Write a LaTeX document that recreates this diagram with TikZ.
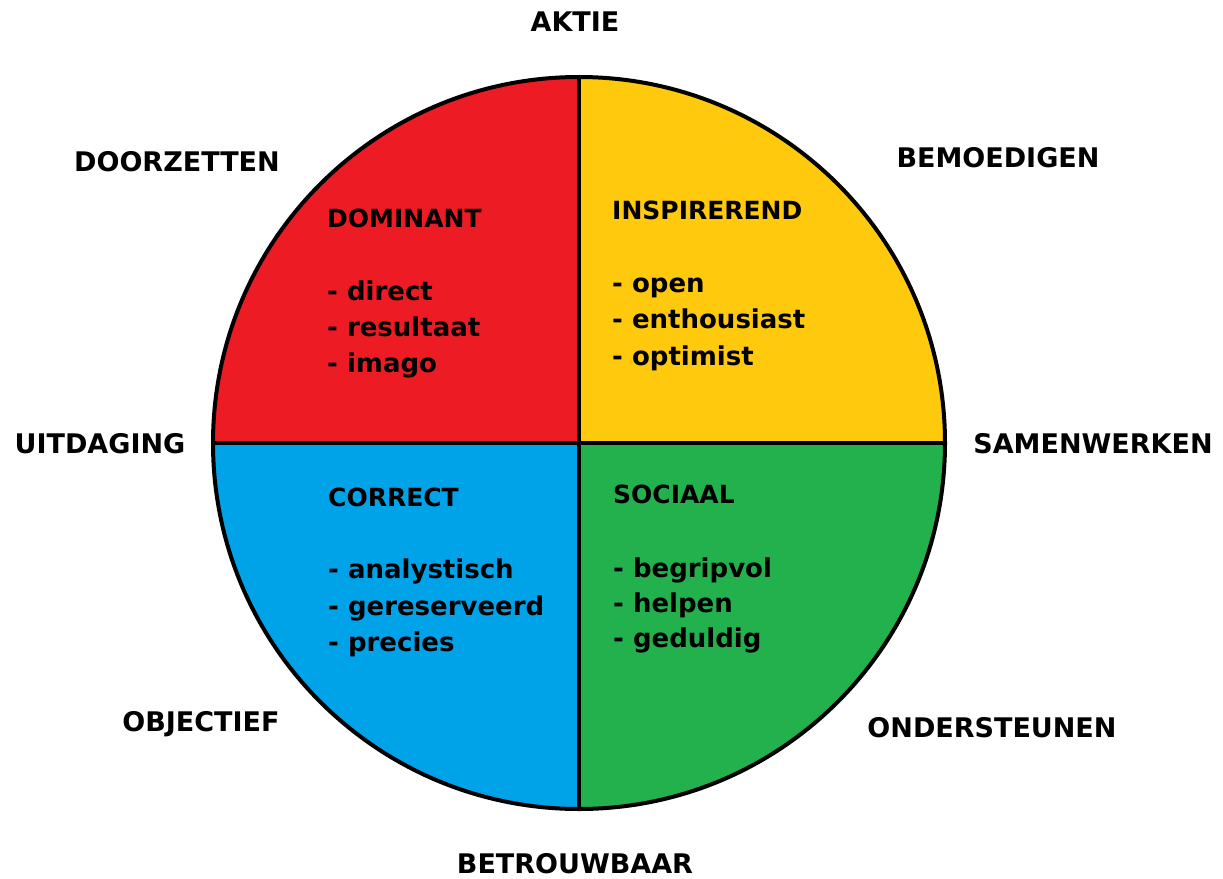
\documentclass[tikz,border=0pt]{standalone}
\usepackage{fontspec}
\setmainfont{DejaVu Sans}
\definecolor{quadred}{HTML}{ED1C24}
\definecolor{quadyellow}{HTML}{FFC90E}
\definecolor{quadblue}{HTML}{00A2E8}
\definecolor{quadgreen}{HTML}{22B14C}
\begin{document}
\begin{tikzpicture}[x=1pt,y=-1pt,
  outerlabel/.style={inner sep=0pt,font=\fontsize{27}{32}\selectfont\bfseries},
  quadtitle/.style={inner sep=0pt,anchor=base west,font=\fontsize{25}{30}\selectfont\bfseries},
  quaditem/.style={inner sep=0pt,anchor=base west,font=\fontsize{26}{31}\selectfont\bfseries}]
  \useasboundingbox[fill=white] (0,0) rectangle (1223,878);
  % the four coloured quadrants (y axis points down, so angles run clockwise)
  \coordinate (c) at (579,443);
  \fill[quadred]    (c) -- ++(-366,0) arc[start angle=180,end angle=270,radius=366] -- cycle;
  \fill[quadyellow] (c) -- ++(0,-366) arc[start angle=270,end angle=360,radius=366] -- cycle;
  \fill[quadgreen]  (c) -- ++(366,0) arc[start angle=0,end angle=90,radius=366] -- cycle;
  \fill[quadblue]   (c) -- ++(0,366) arc[start angle=90,end angle=180,radius=366] -- cycle;
  % outline and dividing lines
  \node[circle,draw,line width=4pt,minimum size=732pt,inner sep=0pt] (wheel) at (c) {};
  \draw[line width=4pt] (wheel.north) -- (wheel.south);
  \draw[line width=4pt] (wheel.west) -- (wheel.east);
  % labels around the circle
  \node[outerlabel] (aktie) at (575,22) {AKTIE};
  \node[outerlabel] (doorzetten) at (177,162) {DOORZETTEN};
  \node[outerlabel] (bemoedigen) at (998,158) {BEMOEDIGEN};
  \node[outerlabel] (uitdaging) at (100,444) {UITDAGING};
  \node[outerlabel] (samenwerken) at (1093,444) {SAMENWERKEN};
  \node[outerlabel] (objectief) at (201,724) {OBJECTIEF};
  \node[outerlabel] (ondersteunen) at (992,728) {ONDERSTEUNEN};
  \node[outerlabel] (betrouwbaar) at (575,864) {BETROUWBAAR};
  % dominant
  \node[quadtitle] (dom) at (327,227) {DOMINANT};
  \node[quaditem] (dom1) at (327,300) {- direct};
  \node[quaditem] (dom2) at (327,336) {- resultaat};
  \node[quaditem] (dom3) at (327,372) {- imago};
  % inspirerend
  \node[quadtitle] (insp) at (612,219) {INSPIREREND};
  \node[quaditem] (insp1) at (612,292) {- open};
  \node[quaditem] (insp2) at (612,328) {- enthousiast};
  \node[quaditem] (insp3) at (612,365) {- optimist};
  % correct
  \node[quadtitle] (corr) at (328,506) {CORRECT};
  \node[quaditem] (corr1) at (328,578) {- analystisch};
  \node[quaditem] (corr2) at (328,615) {- gereserveerd};
  \node[quaditem] (corr3) at (328,651) {- precies};
  % sociaal
  \node[quadtitle] (soc) at (613,503) {SOCIAAL};
  \node[quaditem] (soc1) at (613,577) {- begripvol};
  \node[quaditem] (soc2) at (613,612) {- helpen};
  \node[quaditem] (soc3) at (613,647) {- geduldig};
\end{tikzpicture}
\end{document}
